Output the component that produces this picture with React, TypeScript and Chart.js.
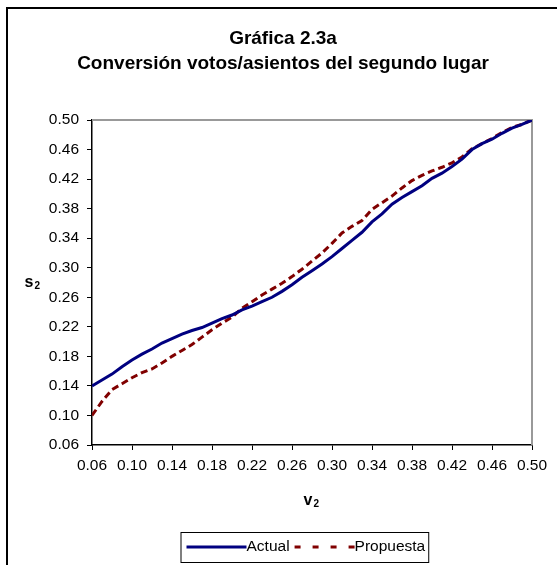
import React, { useEffect, useRef } from "react";
import { Chart, registerables } from "chart.js";

Chart.register(...registerables);

const titleLines = ["Gráfica 2.3a", "Conversión votos/asientos del segundo lugar"];
const xAxisLabel = "v";
const yAxisLabel = "s";
const axisSub = "2";
const seriesNames = ["Actual", "Propuesta"];

const v2 = [
  0.06, 0.07, 0.08, 0.09, 0.10, 0.11, 0.12, 0.13, 0.14, 0.15, 0.16, 0.17, 0.18, 0.19, 0.20,
  0.21, 0.22, 0.23, 0.24, 0.25, 0.26, 0.27, 0.28, 0.29, 0.30, 0.31, 0.32, 0.33, 0.34, 0.35,
  0.36, 0.37, 0.38, 0.39, 0.40, 0.41, 0.42, 0.43, 0.44, 0.45, 0.46, 0.47, 0.48, 0.49, 0.50,
];

const actual = [
  0.140, 0.148, 0.156, 0.166, 0.175, 0.183, 0.190, 0.198, 0.204, 0.210, 0.215, 0.219, 0.225, 0.231, 0.236,
  0.243, 0.248, 0.254, 0.260, 0.268, 0.277, 0.287, 0.296, 0.305, 0.315, 0.326, 0.337, 0.348, 0.362, 0.373,
  0.386, 0.395, 0.403, 0.411, 0.421, 0.428, 0.437, 0.447, 0.460, 0.468, 0.474, 0.482, 0.489, 0.494, 0.500,
];

const propuesta = [
  0.100, 0.119, 0.135, 0.143, 0.151, 0.158, 0.163, 0.171, 0.180, 0.188, 0.196, 0.206, 0.216, 0.225, 0.233,
  0.245, 0.254, 0.263, 0.271, 0.279, 0.288, 0.298, 0.309, 0.320, 0.333, 0.347, 0.356, 0.364, 0.379, 0.388,
  0.397, 0.408, 0.418, 0.425, 0.431, 0.436, 0.442, 0.450, 0.461, 0.468, 0.475, 0.483, 0.490, 0.494, 0.500,
];

const FONT = "'Liberation Sans', Arial, sans-serif";
const BLUE = "#000080";
const RED = "#800000";

const decorPlugin = {
  id: "decor",
  beforeDraw(chart: any) {
    const ctx = chart.ctx;
    ctx.save();
    ctx.fillStyle = "#fff";
    ctx.fillRect(0, 0, chart.width, chart.height);
    // outer frame (top & left visible)
    ctx.fillStyle = "#000";
    ctx.fillRect(6, 7, chart.width - 6, 2);
    ctx.fillRect(6, 7, 2, chart.height - 7);
    ctx.restore();
  },
  beforeDatasetsDraw(chart: any) {
    const { ctx, chartArea } = chart;
    ctx.save();
    ctx.strokeStyle = "#999999";
    ctx.lineWidth = 2;
    ctx.beginPath();
    ctx.moveTo(chartArea.left, chartArea.top);
    ctx.lineTo(chartArea.right, chartArea.top);
    ctx.lineTo(chartArea.right, chartArea.bottom);
    ctx.stroke();
    ctx.restore();
  },
  afterDraw(chart: any) {
    const ctx = chart.ctx;
    ctx.save();
    // Title
    ctx.fillStyle = "#000";
    ctx.font = `bold 19px ${FONT}`;
    ctx.textAlign = "center";
    ctx.textBaseline = "alphabetic";
    ctx.fillText(titleLines[0], 283, 44);
    ctx.fillText(titleLines[1], 283, 68.5);

    // Axis titles with subscripts
    ctx.textAlign = "left";
    const drawSub = (main: string, x: number, y: number) => {
      ctx.font = `bold 16px ${FONT}`;
      ctx.fillText(main, x, y);
      const w = ctx.measureText(main).width;
      ctx.font = `bold 10px ${FONT}`;
      ctx.fillText(axisSub, x + w + 1, y + 2);
    };
    drawSub(yAxisLabel, 24.5, 287);
    drawSub(xAxisLabel, 303.5, 505);

    // Legend
    const ds = chart.data.datasets;
    ctx.font = `15.5px ${FONT}`;
    ctx.textBaseline = "middle";
    const ly = 547;
    let x = 186.5;
    const startX = x;
    ds.forEach((d: any, i: number) => {
      ctx.beginPath();
      ctx.strokeStyle = d.borderColor;
      ctx.lineWidth = 3;
      ctx.setLineDash(i === 0 ? [] : [6, 12]);
      ctx.moveTo(x, ly);
      ctx.lineTo(x + 60, ly);
      ctx.stroke();
      ctx.setLineDash([]);
      ctx.fillStyle = "#000";
      ctx.fillText(d.label, x + 60, ly);
      x += 60 + ctx.measureText(d.label).width + 5;
    });
    ctx.strokeStyle = "#000";
    ctx.lineWidth = 1;
    ctx.strokeRect(startX - 5.5, 532.5, x - startX + 4, 30);
    ctx.restore();
  },
};

export default function App() {
  const ref = useRef<HTMLCanvasElement>(null);
  useEffect(() => {
    const canvas = ref.current;
    if (!canvas) return;
    const chart = new Chart(canvas, {
      type: "line",
      data: {
        datasets: [
          {
            label: seriesNames[0],
            data: v2.map((v, i) => ({ x: v, y: actual[i] })),
            borderColor: BLUE,
            backgroundColor: BLUE,
            borderWidth: 3,
            pointRadius: 0,
            tension: 0,
            fill: false,
          },
          {
            label: seriesNames[1],
            data: v2.map((v, i) => ({ x: v, y: propuesta[i] })),
            borderColor: RED,
            backgroundColor: RED,
            borderWidth: 3,
            borderDash: [7, 4],
            pointRadius: 0,
            tension: 0,
            fill: false,
          },
        ],
      },
      options: {
        animation: false,
        responsive: false,
        devicePixelRatio: 1,
        layout: { padding: { top: 120, right: 25, left: 0, bottom: 0 } },
        plugins: {
          legend: { display: false },
          title: { display: false },
          tooltip: { enabled: false },
        },
        scales: {
          x: {
            type: "linear",
            min: 0.06,
            max: 0.5,
            afterFit: (s: any) => { s.height = 120; },
            border: { display: true, color: "#000", width: 1.5 },
            grid: { drawOnChartArea: false, drawTicks: true, tickLength: 5, color: "#000", lineWidth: 1 },
            ticks: {
              stepSize: 0.04,
              autoSkip: false,
              maxRotation: 0,
              padding: 6,
              color: "#000",
              font: { family: FONT, size: 15.5 },
              callback: (v: any) => Number(v).toFixed(2),
            },
          },
          y: {
            type: "linear",
            min: 0.06,
            max: 0.5,
            afterFit: (s: any) => { s.width = 92; },
            border: { display: true, color: "#000", width: 1.5 },
            grid: { drawOnChartArea: false, drawTicks: true, tickLength: 5, color: "#000", lineWidth: 1 },
            ticks: {
              stepSize: 0.04,
              autoSkip: false,
              padding: 8,
              color: "#000",
              font: { family: FONT, size: 15.5 },
              callback: (v: any) => Number(v).toFixed(2),
            },
          },
        },
      },
      plugins: [decorPlugin],
    });
    return () => chart.destroy();
  }, []);
  return (
    <div style={{ position: "fixed", left: 0, top: 0, width: 557, height: 565 }}>
      <canvas ref={ref} width={557} height={565} style={{ display: "block" }} />
    </div>
  );
}
